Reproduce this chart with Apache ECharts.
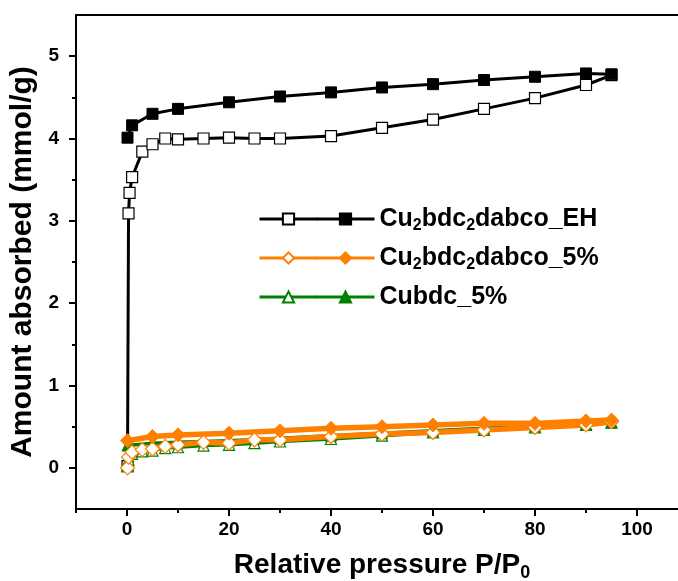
<!DOCTYPE html>
<html>
<head>
<meta charset="utf-8">
<script src="https://cdn.jsdelivr.net/npm/echarts@6/dist/echarts.min.js"></script>
<style>html,body{margin:0;padding:0;background:#fff;}#c{width:678px;height:581px;}</style>
</head>
<body>
<div id="c"></div>
<script>
// ---- data ----
const xEHads = [0.1, 0.3, 0.5, 1, 3, 5, 7.5, 10, 15, 20, 25, 30, 40, 50, 60, 70, 80, 90, 95];
const yEHads = [0.02, 3.09, 3.34, 3.53, 3.84, 3.93, 4.00, 3.99, 4.00, 4.01, 4.00, 4.00, 4.03, 4.13, 4.23, 4.36, 4.49, 4.65, 4.77];
const xEHdes = [95, 90, 80, 70, 60, 50, 40, 30, 20, 10, 5, 1, 0.1];
const yEHdes = [4.78, 4.79, 4.75, 4.71, 4.66, 4.62, 4.56, 4.51, 4.44, 4.36, 4.30, 4.16, 4.01];

const x5ads = [0.1, 0.3, 1, 3, 5, 7.5, 10, 15, 20, 25, 30, 40, 50, 60, 70, 80, 90, 95];
const y5ads = [0.00, 0.13, 0.19, 0.22, 0.23, 0.26, 0.28, 0.31, 0.30, 0.34, 0.34, 0.38, 0.41, 0.43, 0.46, 0.49, 0.52, 0.56];
const x5des = [95, 90, 80, 70, 60, 50, 40, 30, 20, 10, 5, 0.1];
const y5des = [0.58, 0.57, 0.54, 0.54, 0.52, 0.50, 0.48, 0.45, 0.42, 0.40, 0.38, 0.33];

const xCbads = [0.1, 0.3, 1, 3, 5, 7.5, 10, 15, 20, 25, 30, 40, 50, 60, 70, 80, 90, 95];
const yCbads = [0.02, 0.10, 0.17, 0.20, 0.21, 0.24, 0.25, 0.27, 0.28, 0.30, 0.32, 0.35, 0.39, 0.43, 0.46, 0.49, 0.52, 0.55];
const xCbdes = [95, 90, 80, 70, 60, 50, 40, 30, 20, 10, 5, 0.1];
const yCbdes = [0.55, 0.53, 0.50, 0.48, 0.45, 0.42, 0.39, 0.36, 0.33, 0.31, 0.30, 0.27];

const xMajorTicks = [0, 20, 40, 60, 80, 100];
const xMinorTicks = [-10, 10, 30, 50, 70, 90, 110];
const yMajorTicks = [0, 1, 2, 3, 4, 5];
const yMinorTicks = [0.5, 1.5, 2.5, 3.5, 4.5];

const legendNames = {
  EH_d: '{n|Cu}{s|2}{n|bdc}{s|2}{n|dabco_EH}',
  C5_d: '{n|Cu}{s|2}{n|bdc}{s|2}{n|dabco_5%}',
  Cb_d: '{n|Cubdc_5%}'
};

// ---- chart ----
const FONT = 'Liberation Sans, Arial, sans-serif';
const pairs = (xs, ys) => xs.map((x, i) => [x, ys[i]]);
const chart = echarts.init(document.getElementById('c'), null, {renderer: 'canvas'});

function mkSeries(name, xs, ys, color, symbol, filled, size, lw, z) {
  return {
    name, type: 'line', data: pairs(xs, ys), symbol, symbolSize: size,
    showSymbol: true, z,
    lineStyle: {color, width: lw},
    itemStyle: filled ? {color, borderColor: color, borderWidth: 1}
                      : {color: '#fff', borderColor: color, borderWidth: 1.2},
    emphasis: {disabled: true}
  };
}

const richText = {
  n: {fontSize: 25, fontWeight: 'bold', fontFamily: FONT, color: '#000', lineHeight: 30},
  s: {fontSize: 16, fontWeight: 'bold', fontFamily: FONT, color: '#000', padding: [14, 0, 0, 0]}
};

const option = {
  animation: false,
  backgroundColor: '#fff',
  grid: {left: 76, top: 15, width: 612, height: 494, outerBoundsMode: 'none', containLabel: false},
  legend: [
    {
      data: ['EH_a', 'C5_a', 'Cb_a'], orient: 'vertical', left: 253, top: 199,
      itemWidth: 58, itemHeight: 14, itemGap: 9, selectedMode: false,
      lineStyle: {width: 3},
      formatter: () => ' ',
      textStyle: {fontSize: 25, lineHeight: 30, color: 'transparent'}
    },
    {
      data: ['EH_d', 'C5_d', 'Cb_d'], orient: 'vertical', left: 310, top: 199,
      itemWidth: 58, itemHeight: 14, itemGap: 9, selectedMode: false,
      lineStyle: {width: 3},
      formatter: (n) => legendNames[n],
      textStyle: {fontSize: 25, lineHeight: 30, rich: richText}
    }
  ],
  xAxis: [
    {
      type: 'value', position: 'bottom', min: -10, max: 110,
      axisLine: {show: true, onZero: false, lineStyle: {color: '#000', width: 2}},
      axisTick: {show: true, inside: false, length: 7, lineStyle: {color: '#000', width: 2}, customValues: xMajorTicks},
      axisLabel: {show: true, customValues: xMajorTicks, fontSize: 19, fontWeight: 'bold', fontFamily: FONT, color: '#000', margin: 11},
      splitLine: {show: false},
      name: '{n|Relative pressure P/P}{s|0}', nameLocation: 'middle', nameGap: 40,
      nameTextStyle: {rich: {
        n: {fontSize: 28, fontWeight: 'bold', fontFamily: FONT, color: '#000', lineHeight: 33},
        s: {fontSize: 18, fontWeight: 'bold', fontFamily: FONT, color: '#000', padding: [15, 0, 0, 0]}
      }}
    },
    {
      type: 'value', position: 'bottom', min: -10, max: 110,
      axisLine: {show: false, onZero: false},
      axisTick: {show: true, inside: false, length: 4, lineStyle: {color: '#000', width: 2}, customValues: xMinorTicks},
      axisLabel: {show: false}, splitLine: {show: false}
    },
    {
      type: 'value', position: 'top', min: -10, max: 110,
      axisLine: {show: true, onZero: false, lineStyle: {color: '#000', width: 2}},
      axisTick: {show: false}, axisLabel: {show: false}, splitLine: {show: false}
    }
  ],
  yAxis: [
    {
      type: 'value', position: 'left', min: -0.5, max: 5.5,
      axisLine: {show: true, onZero: false, lineStyle: {color: '#000', width: 2}},
      axisTick: {show: true, inside: false, length: 7, lineStyle: {color: '#000', width: 2}, customValues: yMajorTicks},
      axisLabel: {show: true, customValues: yMajorTicks, fontSize: 19, fontWeight: 'bold', fontFamily: FONT, color: '#000', margin: 17},
      splitLine: {show: false},
      name: 'Amount absorbed (mmol/g)', nameLocation: 'middle', nameGap: 25, nameRotate: 90,
      nameTextStyle: {fontSize: 30, fontWeight: 'bold', fontFamily: FONT, color: '#000'}
    },
    {
      type: 'value', position: 'left', min: -0.5, max: 5.5,
      axisLine: {show: false, onZero: false},
      axisTick: {show: true, inside: false, length: 4, lineStyle: {color: '#000', width: 2}, customValues: yMinorTicks},
      axisLabel: {show: false}, splitLine: {show: false}
    }
  ],
  series: [
    mkSeries('EH_a', xEHads, yEHads, '#000000', 'rect', false, 11, 3, 2),
    mkSeries('EH_d', xEHdes, yEHdes, '#000000', 'rect', true, 11, 3, 2),
    mkSeries('Cb_a', xCbads, yCbads, '#008000', 'triangle', false, 11, 3.5, 3),
    mkSeries('Cb_d', xCbdes, yCbdes, '#008000', 'triangle', true, 11, 3.5, 3),
    mkSeries('C5_a', x5ads, y5ads, '#FF8000', 'diamond', false, 14, 5.5, 4),
    mkSeries('C5_d', x5des, y5des, '#FF8000', 'diamond', true, 14, 5.5, 4)
  ]
};
chart.setOption(option);
</script>
</body>
</html>
